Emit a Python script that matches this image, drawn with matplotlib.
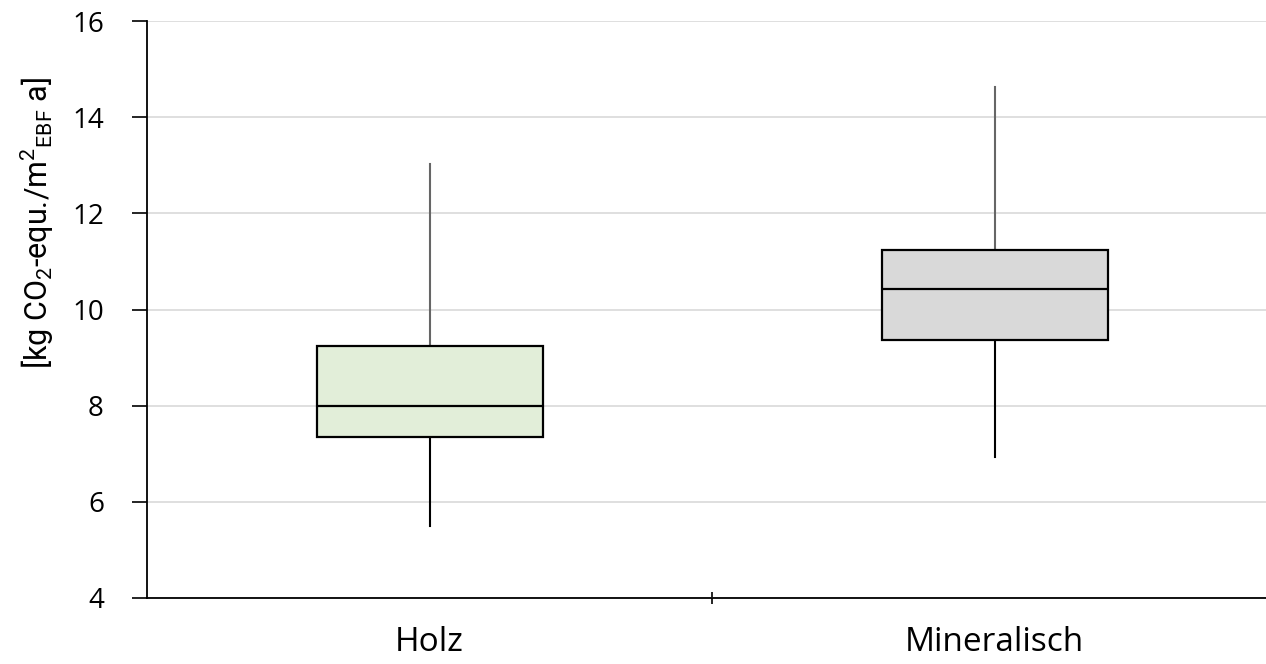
import matplotlib
matplotlib.use("Agg")
import matplotlib.pyplot as plt

categories = ["Holz", "Mineralisch"]
whisker_low = [5.50, 6.94]
q1 = [7.35, 9.37]
median = [8.00, 10.43]
q3 = [9.24, 11.24]
whisker_high = [13.03, 14.62]
box_colors = ["#e2eed9", "#d9d9d9"]
yticks = [4, 6, 8, 10, 12, 14, 16]

plt.rcParams['font.family'] = ['Open Sans', 'DejaVu Sans']
plt.rcParams['mathtext.default'] = 'regular'

W, H = 1266, 664
fig = plt.figure(figsize=(W / 100, H / 100), dpi=100)
left = 147 / W
right = 1277 / W
bottom = (H - 598) / H
top = (H - 21) / H
ax = fig.add_axes([left, bottom, right - left, top - bottom])

stats = []
for i, c in enumerate(categories):
    stats.append(dict(label=c, whislo=whisker_low[i], q1=q1[i], med=median[i],
                      q3=q3[i], whishi=whisker_high[i], fliers=[]))

bp = ax.bxp(stats, positions=[0, 1], widths=0.4, patch_artist=True, showcaps=False,
            showfliers=False,
            boxprops=dict(edgecolor="black", linewidth=1.6),
            medianprops=dict(color="black", linewidth=1.6),
            whiskerprops=dict(color="black", linewidth=1.5))
for patch, col in zip(bp['boxes'], box_colors):
    patch.set_facecolor(col)
for i, w in enumerate(bp['whiskers']):
    if i % 2 == 1:
        w.set_color("#666666")
for b in bp['boxes']:
    b.set_zorder(3)
for m in bp['medians']:
    m.set_zorder(4)

ax.set_xlim(-0.5, 1.5)
ax.set_ylim(4, 16)
ax.set_yticks(yticks)
ax.set_yticklabels([str(t) for t in yticks])
ax.yaxis.grid(True, color="#d9d9d9", linewidth=1.2)
ax.set_axisbelow(True)

ax.set_xticks([0, 1])
ax.set_xticklabels(categories)
ax.tick_params(axis='x', length=0, labelsize=24, pad=20)
ax.tick_params(axis='y', length=11, width=1.2, labelsize=20, pad=20, direction='out')
ax.set_xticks([0.5], minor=True)
ax.tick_params(axis='x', which='minor', length=8, width=1.2, direction='inout')

for s in ['top', 'right']:
    ax.spines[s].set_visible(False)
ax.spines['left'].set_linewidth(1.3)
ax.spines['bottom'].set_linewidth(1.3)

ax.set_ylabel("[kg CO$_2$-equ./m$^2$$_{EBF}$ a]", fontsize=22, family=['Roboto', 'DejaVu Sans'])
ax.yaxis.set_label_coords((56 - 147) / (1277 - 147), (598 - 223) / 577)

fig.savefig("out.png", dpi=100)
